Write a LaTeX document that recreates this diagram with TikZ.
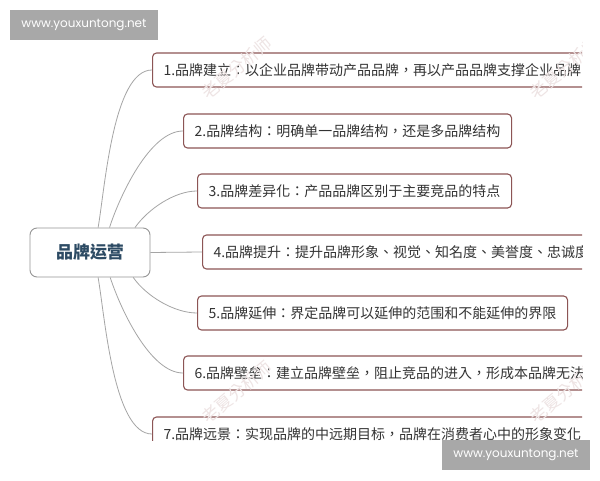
\documentclass[tikz,border=0pt]{standalone}
\usepackage{fontspec}
\newfontfamily\cjk{Noto Sans CJK TC}
\newfontfamily\urlfont{Poppins}

\definecolor{boxline}{RGB}{140,85,85}
\definecolor{hubline}{RGB}{150,150,150}
\definecolor{hubtext}{RGB}{45,75,100}
\definecolor{wire}{RGB}{165,165,165}
\definecolor{stampgray}{RGB}{168,168,168}
\definecolor{faint}{RGB}{238,228,228}

\tikzset{
  hub/.style={draw=hubline, line width=0.9pt, rounded corners=7pt, fill=white,
    minimum width=120pt, minimum height=49pt, text=hubtext,
    font=\cjk\bfseries\fontsize{17}{20}\selectfont},
  branch/.style={draw=boxline, line width=1.1pt, rounded corners=4pt, fill=white,
    anchor=west, inner xsep=11pt, minimum height=34pt, text=black!80,
    font=\cjk\fontsize{14}{16}\selectfont},
  longbranch/.style={branch, text width=440pt, align=left},
  wmtext/.style={text=faint, rotate=40, font=\cjk\fontsize{17}{19}\selectfont},
  urlbox/.style={fill=stampgray, text=white, minimum width=148pt, minimum height=30pt,
    font=\urlfont\fontsize{12}{14}\selectfont}
}

\begin{document}
\begin{tikzpicture}[x=1pt,y=1pt]
  \useasboundingbox (0,0) rectangle (600,480);
  \fill[white] (0,0) rectangle (600,480);

  \begin{scope}
    \clip (0,40) rectangle (582,480);

    \node[hub] (c) at (90,227.5) {品牌运营};

    \node[longbranch] (1) at (152,410) {1.品牌建立：以企业品牌带动产品品牌，再以产品品牌支撑企业品牌};
    \node[branch, minimum width=328pt] (2) at (183,349) {2.品牌结构：明确单一品牌结构，还是多品牌结构};
    \node[branch, minimum width=314pt] (3) at (197,289) {3.品牌差异化：产品品牌区别于主要竞品的特点};
    \node[longbranch] (4) at (202,228) {4.品牌提升：提升品牌形象、视觉、知名度、美誉度、忠诚度};
    \node[branch, minimum width=370pt] (5) at (197,167) {5.品牌延伸：界定品牌可以延伸的范围和不能延伸的界限};
    \node[longbranch] (6) at (183,107) {6.品牌壁垒：建立品牌壁垒，阻止竞品的进入，形成本品牌无法};
    \node[longbranch] (7) at (152,46) {7.品牌远景：实现品牌的中远期目标，品牌在消费者心中的形象变化};

    \begin{scope}[every edge/.style={draw=wire, line width=0.8pt}]
      \path (c.72)  edge[out=80, in=180, looseness=0.6] (1.west);
      \path (c.52)  edge[out=72, in=180, looseness=0.7] (2.west);
      \path (c.29)  edge[out=55, in=180, looseness=0.8] (3.west);
      \path (c.east) edge (4.west);
      \path (c.-30) edge[out=-55, in=180, looseness=0.8] (5.west);
      \path (c.-51) edge[out=-72, in=180, looseness=0.7] (6.west);
      \path (c.-72) edge[out=-80, in=180, looseness=0.6] (7.west);
    \end{scope}

    \node[wmtext] (w1) at (237,412) {老夏分析师};
    \node[wmtext] (w2) at (565,412) {老夏分析师};
    \node[wmtext] (w3) at (237,88) {老夏分析师};
    \node[wmtext] (w4) at (565,88) {老夏分析师};
  \end{scope}

  \node[urlbox] (u1) at (84,455) {www.youxuntong.net};
  \node[urlbox] (u2) at (516,25) {www.youxuntong.net};
\end{tikzpicture}
\end{document}
